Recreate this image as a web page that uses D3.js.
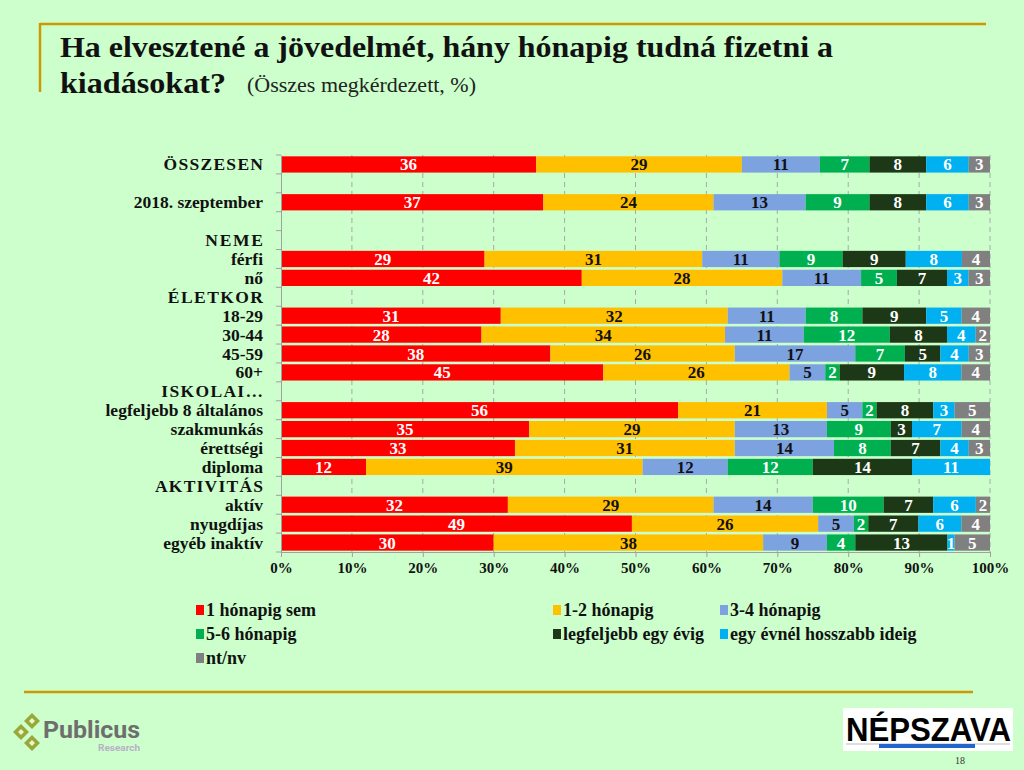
<!DOCTYPE html>
<html><head><meta charset="utf-8">
<script src="https://cdn.jsdelivr.net/npm/d3@7"></script>
<style>body{margin:0;background:#CCFFCC;}svg{display:block;font-family:"Liberation Serif","DejaVu Serif",serif;}</style>
</head><body>
<svg id="c" width="1024" height="770"></svg>
<script>
const categories = ["ÖSSZESEN","","2018. szeptember"," ","NEME","férfi","nő","ÉLETKOR","18-29","30-44","45-59","60+","ISKOLAI…","legfeljebb 8 általános","szakmunkás","érettségi","diploma","AKTIVITÁS","aktív","nyugdíjas","egyéb inaktív"];
const headers = ["ÖSSZESEN","NEME","ÉLETKOR","ISKOLAI…","AKTIVITÁS"];
const seriesNames = ["1 hónapig sem","1-2 hónapig","3-4 hónapig","5-6 hónapig","legfeljebb egy évig","egy évnél hosszabb ideig","nt/nv"];
const seriesColors = ["#FF0000","#FFC000","#7DA2E0","#00B050","#1D3816","#00B0F0","#808080"];
const labelColors = ["#fff","#111","#111","#fff","#fff","#fff","#fff"];
const valuesByRow = {
 "ÖSSZESEN":[36,29,11,7,8,6,3],
 "2018. szeptember":[37,24,13,9,8,6,3],
 "férfi":[29,31,11,9,9,8,4],
 "nő":[42,28,11,5,7,3,3],
 "18-29":[31,32,11,8,9,5,4],
 "30-44":[28,34,11,12,8,4,2],
 "45-59":[38,26,17,7,5,4,3],
 "60+":[45,26,5,2,9,8,4],
 "legfeljebb 8 általános":[56,21,5,2,8,3,5],
 "szakmunkás":[35,29,13,9,3,7,4],
 "érettségi":[33,31,14,8,7,4,3],
 "diploma":[12,39,12,12,14,11,0],
 "aktív":[32,29,14,10,7,6,2],
 "nyugdíjas":[49,26,5,2,7,6,4],
 "egyéb inaktív":[30,38,9,4,13,1,5]
};
const tickLabels = ["0%","10%","20%","30%","40%","50%","60%","70%","80%","90%","100%"];

const svg = d3.select("#c");
svg.append("line").attr("x1",40).attr("x2",986).attr("y1",24).attr("y2",24).attr("stroke","#CC9900").attr("stroke-width",2.5);
svg.append("line").attr("x1",40).attr("x2",40).attr("y1",23).attr("y2",92).attr("stroke","#CC9900").attr("stroke-width",2.5);
svg.append("line").attr("x1",24).attr("x2",973).attr("y1",692).attr("y2",692).attr("stroke","#CC9900").attr("stroke-width",2.5);

svg.append("text").attr("x",60).attr("y",57).attr("font-size",30).attr("font-weight","bold").attr("fill","#111")
  .attr("textLength",773).attr("lengthAdjust","spacingAndGlyphs").text("Ha elvesztené a jövedelmét, hány hónapig tudná fizetni a");
svg.append("text").attr("x",60).attr("y",93).attr("font-size",30).attr("font-weight","bold").attr("fill","#111")
  .attr("textLength",166).attr("lengthAdjust","spacingAndGlyphs").text("kiadásokat?");
svg.append("text").attr("x",247).attr("y",92).attr("font-size",20).attr("fill","#222")
  .attr("textLength",229).attr("lengthAdjust","spacingAndGlyphs").text("(Összes megkérdezett, %)");

const x0 = 281, x1 = 990, yTop = 155, yBot = 552;
const x = d3.scaleLinear().domain([0,1]).range([x0,x1]);
const y = d3.scaleBand().domain(categories).range([yTop,yBot]).paddingInner(0.14).paddingOuter(0.07);

const g = svg.append("g");
g.selectAll("line.grid").data(d3.range(1,11).map(d=>d/10)).join("line")
 .attr("x1",d=>x(d)).attr("x2",d=>x(d)).attr("y1",yTop).attr("y2",yBot)
 .attr("stroke","#A8A8A8").attr("stroke-dasharray","5,4").attr("stroke-width",1);

const rows = categories.filter(c=>valuesByRow[c]);
rows.forEach(cat=>{
  const vals = valuesByRow[cat];
  const tot = d3.sum(vals);
  let cum = 0;
  vals.forEach((v,i)=>{
    if(!v){return;}
    const a = cum/tot, b = (cum+v)/tot; cum += v;
    g.append("rect").attr("x",x(a)).attr("width",x(b)-x(a)).attr("y",y(cat)).attr("height",y.bandwidth()).attr("fill",seriesColors[i]);
    g.append("text").attr("x",(x(a)+x(b))/2).attr("y",y(cat)+y.bandwidth()/2+6)
      .attr("text-anchor","middle").attr("font-size",17).attr("font-weight","bold").attr("fill",labelColors[i]).text(v);
  });
});

const yAxis = d3.axisLeft(y).tickSize(0).tickFormat(()=>"");
const ya = svg.append("g").attr("transform",`translate(${x0},0)`).call(yAxis);
ya.select(".domain").attr("stroke","#A0A0A0");
const bounds = d3.range(0,categories.length+1).map(i=>yTop + (yBot-yTop)*i/categories.length);
svg.selectAll("line.yt").data(bounds).join("line").attr("x1",x0-5).attr("x2",x0).attr("y1",d=>d).attr("y2",d=>d).attr("stroke","#A0A0A0");
svg.selectAll("text.cat").data(categories.filter(c=>c.trim())).join("text")
 .attr("x",263).attr("y",d=>y(d)+y.bandwidth()/2+6).attr("text-anchor","end")
 .attr("font-size",17.5).attr("font-weight","bold").attr("fill","#111").text(d=>d)
 .each(function(d){ if(headers.includes(d)){ const w=this.getComputedTextLength(); d3.select(this).attr("textLength",w*1.1).attr("lengthAdjust","spacing"); } });

const xAxis = d3.axisBottom(x).tickValues(d3.range(0,11).map(d=>d/10)).tickSize(5).tickFormat((d,i)=>tickLabels[i]);
const xa = svg.append("g").attr("transform",`translate(0,${yBot})`).call(xAxis);
xa.select(".domain").attr("stroke","#A0A0A0");
xa.selectAll(".tick line").attr("stroke","#A0A0A0");
xa.selectAll(".tick text").attr("font-family","Liberation Serif, serif").attr("font-size",15).attr("font-weight","bold").attr("fill","#111").attr("dy","0.85em");

const legPos = [[196,610],[553,610],[720,610],[196,634],[553,634],[720,634],[196,658]];
seriesNames.forEach((n,i)=>{
  const [lx,ly] = legPos[i];
  svg.append("rect").attr("x",lx).attr("y",ly-5).attr("width",8).attr("height",10).attr("fill",seriesColors[i]);
  svg.append("text").attr("x",lx+10).attr("y",ly+6).attr("font-size",18).attr("font-weight","bold").attr("fill","#111").text(n);
});

const pl = svg.append("g");
[[32,721],[21,732],[32,743]].forEach(([cx,cy])=>{
  pl.append("path").attr("d",`M${cx},${cy-8}L${cx+8},${cy}L${cx},${cy+8}L${cx-8},${cy}Z`).attr("fill","#9AA83A");
  pl.append("path").attr("d",`M${cx},${cy-3}L${cx+3},${cy}L${cx},${cy+3}L${cx-3},${cy}Z`).attr("fill","#E8F5D0");
});
pl.append("text").attr("x",43).attr("y",738).attr("font-family","Roboto, sans-serif").attr("font-size",23).attr("font-weight","bold").attr("fill","#6E6E6E")
  .attr("textLength",97).attr("lengthAdjust","spacingAndGlyphs").text("Publicus");
pl.append("text").attr("x",98).attr("y",751).attr("font-family","Roboto, sans-serif").attr("font-size",9).attr("font-weight","bold").attr("fill","#B8B0C8")
  .attr("textLength",42).attr("lengthAdjust","spacingAndGlyphs").text("Research");

const np = svg.append("g");
np.append("rect").attr("x",843).attr("y",708).attr("width",170).attr("height",43).attr("fill","#fff");
np.append("text").attr("x",846).attr("y",741).attr("font-family","Liberation Sans, sans-serif").attr("font-size",33).attr("font-weight","bold").attr("fill","#000")
  .attr("textLength",165).attr("lengthAdjust","spacingAndGlyphs").text("NÉPSZAVA");
np.append("line").attr("x1",846).attr("x2",1010).attr("y1",744).attr("y2",744).attr("stroke","#bbb");
np.append("rect").attr("x",879).attr("y",744).attr("width",96).attr("height",4).attr("fill","#2266CC");
np.append("text").attr("x",955).attr("y",764).attr("font-size",10).attr("fill","#333").text("18");
</script>
</body></html>
